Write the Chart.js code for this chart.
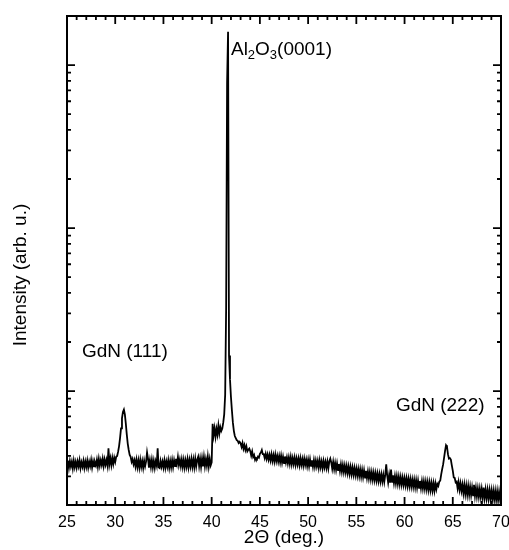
<!DOCTYPE html>
<html>
<head>
<meta charset="utf-8">
<script src="https://cdn.jsdelivr.net/npm/chart.js@4/dist/chart.umd.min.js"></script>
<style>
  html, body { margin: 0; padding: 0; background: #fff; }
  #grafico { display: block; }
</style>
</head>
<body>
<canvas id="grafico" width="509" height="550"></canvas>
<script>
// 2Theta scan, 25..70 deg every 0.1 deg
var thetaStart = 25
var thetaStep = 0.1

// intensity, one row per degree
var intensity = [
  34.0, 37.5, 33.8, 37.2, 34.5, 36.9, 33.6, 37.4, 34.2, 36.8, // 25
  33.9, 37.0, 34.6, 37.6, 33.7, 36.5, 34.4, 37.3, 33.8, 36.9, // 26
  34.3, 37.4, 33.9, 36.8, 34.6, 37.7, 34.0, 37.1, 34.5, 36.6, // 27
  35.0, 37.9, 34.4, 38.3, 34.9, 37.6, 35.2, 38.4, 34.7, 38.0, // 28
  35.3, 37.8, 34.9, 44.5, 35.6, 38.6, 35.1, 38.9, 35.8, 39.0, // 29
  36.8, 39.5, 40.0, 42.5, 46.0, 51.5, 59.0, 68.0, 74.5, 77.0, // 30
  72.0, 63.0, 54.0, 47.5, 43.5, 40.5, 39.5, 36.8, 38.3, 35.6, // 31
  37.6, 34.5, 37.9, 34.2, 37.5, 33.9, 37.8, 34.3, 37.2, 33.8, // 32
  37.4, 34.6, 37.0, 42.0, 38.5, 33.9, 37.6, 34.2, 37.9, 34.0, // 33
  37.3, 33.8, 37.1, 35.0, 44.5, 34.1, 33.7, 37.2, 34.4, 36.9, // 34
  34.0, 37.5, 33.9, 37.0, 34.3, 37.6, 33.8, 37.2, 34.1, 37.7, // 35
  34.2, 37.6, 34.6, 38.4, 35.8, 39.4, 35.2, 37.9, 34.6, 38.0, // 36
  34.3, 37.8, 34.0, 37.5, 34.4, 38.1, 34.1, 37.7, 34.5, 38.3, // 37
  34.4, 38.0, 34.2, 38.5, 34.6, 37.9, 39.5, 34.7, 38.4, 34.3, // 38
  38.6, 34.5, 39.3, 34.6, 38.2, 34.9, 39.6, 34.5, 38.3, 35.0, // 39
  36.5, 63.0, 53.5, 59.0, 52.5, 58.5, 54.0, 61.5, 55.0, 60.0, // 40
  57.0, 59.0, 64.0, 72.0, 95.0, 320, 7800, 16000, 165, 118,   // 41
  92.0, 76.0, 64.0, 57.0, 53.0, 51.5, 50.0, 49.5, 48.0, 48.8, // 42
  47.8, 45.4, 48.0, 44.3, 46.6, 43.5, 45.8, 42.7, 43.7, 44.4, // 43
  42.8, 40.2, 42.6, 39.4, 40.5, 37.8, 38.9, 38.4, 39.6, 39.0, // 44
  41.2, 42.0, 43.5, 41.0, 41.0, 38.8, 41.2, 38.4, 40.8, 38.0, // 45
  40.6, 37.6, 40.9, 37.3, 40.4, 37.0, 40.7, 37.2, 40.0, 36.9, // 46
  39.9, 36.6, 40.1, 36.4, 39.5, 36.2, 39.7, 36.5, 39.2, 36.0, // 47
  39.1, 35.8, 39.4, 35.6, 38.8, 35.7, 39.0, 35.3, 38.6, 35.5, // 48
  38.5, 35.1, 38.7, 35.3, 38.2, 34.9, 38.4, 35.2, 37.9, 34.7, // 49
  37.9, 34.6, 38.1, 34.8, 37.6, 34.4, 37.7, 34.3, 37.4, 34.5, // 50
  37.3, 33.9, 37.5, 34.2, 37.0, 33.7, 37.2, 34.1, 36.8, 33.8, // 51
  36.9, 33.6, 37.1, 38.5, 36.5, 33.4, 36.7, 33.2, 36.2, 32.9, // 52
  36.0, 32.7, 35.7, 32.4, 35.5, 32.1, 35.2, 31.9, 34.9, 31.7, // 53
  34.7, 31.4, 34.4, 31.1, 34.2, 30.9, 33.9, 30.7, 33.7, 30.5, // 54
  33.4, 30.3, 33.2, 30.1, 33.0, 29.8, 32.8, 29.7, 32.6, 29.5, // 55
  32.4, 29.3, 32.1, 29.1, 31.9, 28.8, 31.7, 28.6, 31.5, 28.5, // 56
  31.3, 28.3, 31.1, 28.1, 30.9, 28.0, 30.8, 27.9, 30.6, 27.8, // 57
  30.7, 35.5, 30.3, 27.5, 30.5, 27.4, 33.0, 27.7, 30.4, 27.3, // 58
  30.1, 27.2, 30.0, 27.0, 29.8, 26.8, 29.6, 26.7, 29.4, 26.6, // 59
  29.2, 26.4, 29.1, 26.2, 28.9, 26.1, 28.8, 26.0, 28.6, 25.9, // 60
  28.5, 25.7, 28.4, 25.6, 28.2, 25.5, 28.1, 25.4, 28.0, 25.3, // 61
  27.9, 25.2, 27.8, 25.0, 27.6, 24.8, 27.5, 24.7, 27.3, 24.6, // 62
  27.2, 24.5, 27.1, 25.0, 26.9, 26.2, 27.8, 28.2, 30.8, 33.2, // 63
  35.5, 39.0, 43.0, 46.5, 45.5, 41.0, 38.5, 38.8, 38.0, 35.0, // 64
  32.5, 29.5, 29.3, 27.5, 27.8, 25.3, 27.6, 24.8, 27.1, 24.4, // 65
  26.6, 23.6, 26.5, 23.4, 26.2, 23.2, 26.1, 23.1, 25.8, 23.0, // 66
  25.6, 22.9, 26.6, 22.8, 25.4, 22.6, 25.2, 22.5, 25.1, 22.4, // 67
  25.0, 22.2, 25.6, 22.1, 24.8, 22.0, 24.7, 21.9, 24.6, 21.8, // 68
  24.5, 21.7, 24.4, 21.6, 24.3, 21.5, 24.2, 21.4, 24.1, 21.7, // 69
  23.0                                                        // 70
]

var xMajorTicks = [25, 30, 35, 40, 45, 50, 55, 60, 65, 70]
var yDecades = [10, 100, 1000, 10000]
var yMinorFactors = [2, 3, 4, 5, 6, 7, 8, 9]

// peak labels: text pieces (second item 1 = subscript), 2theta, intensity at baseline
var peakLabels = [
  { parts: [["Al", 0], ["2", 1], ["O", 0], ["3", 1], ["(0001)", 0]], x: 42.0, y: 11500 },
  { parts: [["GdN (111)", 0]], x: 26.55, y: 162 },
  { parts: [["GdN (222)", 0]], x: 59.1, y: 75 }
]

var fonte = "'Liberation Sans', Arial, sans-serif"

var pontos = intensity.map(function (v, i) {
  return { x: Math.round((thetaStart + i * thetaStep) * 10) / 10, y: v }
})

// frame, inward ticks on all four sides, peak labels and y title
var moldura = {
  id: "moldura",
  afterDraw: function (chart) {
    var ctx = chart.ctx
    var a = chart.chartArea
    var xs = chart.scales.x
    var ys = chart.scales.y
    ctx.save()
    ctx.strokeStyle = "#000"
    ctx.lineWidth = 1.8
    ctx.beginPath()
    for (var d = xs.min; d <= xs.max; d++) {
      var px = xs.getPixelForValue(d)
      var len = xMajorTicks.indexOf(d) >= 0 ? 8 : 4
      ctx.moveTo(px, a.bottom); ctx.lineTo(px, a.bottom - len)
      ctx.moveTo(px, a.top); ctx.lineTo(px, a.top + len)
    }
    yDecades.forEach(function (dec) {
      [1].concat(yMinorFactors).forEach(function (f) {
        var v = dec * f
        if (v < ys.min || v > ys.max) return
        var py = ys.getPixelForValue(v)
        var len = f === 1 ? 8 : 4
        ctx.moveTo(a.left, py); ctx.lineTo(a.left + len, py)
        ctx.moveTo(a.right, py); ctx.lineTo(a.right - len, py)
      })
    })
    ctx.stroke()
    ctx.lineWidth = 2
    ctx.strokeRect(a.left, a.top, a.right - a.left, a.bottom - a.top)

    ctx.fillStyle = "#000"
    ctx.textBaseline = "alphabetic"
    ctx.textAlign = "left"
    peakLabels.forEach(function (lb) {
      var px = xs.getPixelForValue(lb.x)
      var py = ys.getPixelForValue(lb.y)
      lb.parts.forEach(function (p) {
        ctx.font = (p[1] ? "13px " : "19px ") + fonte
        ctx.fillText(p[0], px, py + (p[1] ? 4 : 0))
        px += ctx.measureText(p[0]).width
      })
    })

    ctx.translate(21, chart.height / 2)
    ctx.rotate(-Math.PI / 2)
    ctx.textAlign = "center"
    ctx.textBaseline = "middle"
    ctx.font = "19px " + fonte
    ctx.fillText("Intensity (arb. u.)", 0, 0)
    ctx.restore()
  }
}

document.addEventListener("DOMContentLoaded", function () {
  Chart.defaults.font.family = fonte
  Chart.defaults.color = "#000"

  new Chart(document.getElementById("grafico").getContext("2d"), {
    type: "line",
    data: {
      datasets: [{
        data: pontos,
        borderColor: "#000",
        borderWidth: 1.8,
        pointRadius: 0,
        tension: 0,
        fill: false
      }]
    },
    options: {
      responsive: false,
      animation: false,
      layout: { padding: { top: 16, right: 8, left: 0, bottom: 0 } },
      plugins: { legend: { display: false }, tooltip: { enabled: false } },
      scales: {
        x: {
          type: "linear",
          min: 25,
          max: 70,
          border: { display: false },
          grid: { display: false, drawTicks: false },
          ticks: { stepSize: 5, maxRotation: 0, autoSkip: false, padding: 8, font: { size: 16 } },
          title: { display: true, text: "2\u0398 (deg.)", font: { size: 19 }, padding: { top: 0, bottom: 1 } },
          afterFit: function (s) {
            s.height = 45
            s.paddingLeft = 0
            s.paddingRight = 8
          }
        },
        y: {
          type: "logarithmic",
          min: 20,
          max: 20000,
          border: { display: false },
          grid: { display: false, drawTicks: false },
          ticks: { display: false },
          afterFit: function (s) { s.width = 67 }
        }
      }
    },
    plugins: [moldura]
  });
});
</script>
</body>
</html>
